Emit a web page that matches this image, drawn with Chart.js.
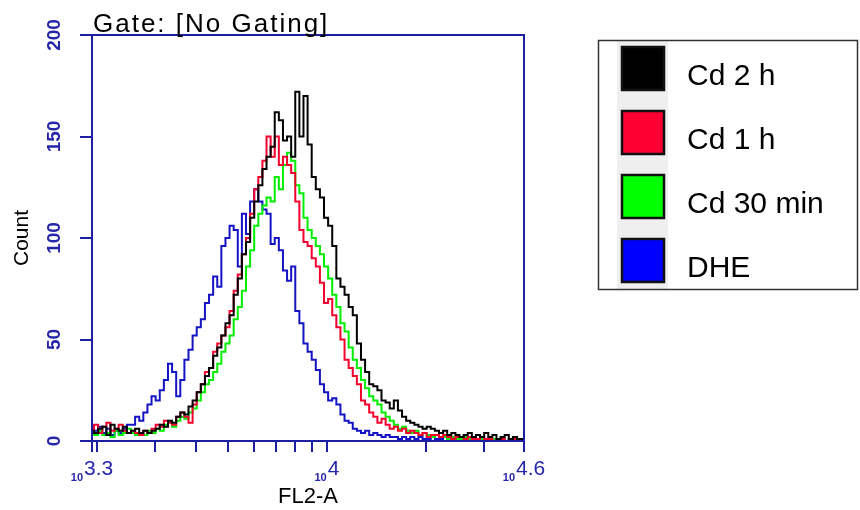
<!DOCTYPE html>
<html>
<head>
<meta charset="utf-8">
<script src="https://cdn.jsdelivr.net/npm/chart.js@4.4.1/dist/chart.umd.min.js"></script>
<style>
  html, body { margin: 0; padding: 0; background: #fff; }
  #wrap { width: 860px; height: 510px; }
</style>
</head>
<body>
<div id="wrap"><canvas id="histo" width="860" height="510"></canvas></div>
<script>
// channel grid, log10(FL2-A)
const binStart = 3.285;
const binWidth = 0.0125;

const seriesNames = ["Cd 2 h", "Cd 1 h", "Cd 30 min", "DHE"];
const seriesColors = ["#000000", "#f2002e", "#00ee00", "#1414c4"];
const legendColors = ["#000000", "#ff0033", "#00ff00", "#0000ff"];

const cd2h = [
  5,4,6,7,3,8,6,5,7,4,
  5,6,4,5,4,5,6,8,7,10,
  9,12,14,13,17,20,24,28,32,36,
  42,46,52,58,62,72,80,92,98,110,
  118,126,134,140,145,162,158,148,150,140,
  172,150,170,146,130,124,120,110,106,96,
  80,76,72,66,62,48,40,34,28,27,
  25,20,19,16,20,15,12,10,9,8,
  7,6,7,6,5,4,5,3,4,3,
  2,3,4,2,3,2,4,2,3,1,
  2,3,1,2,1,1
];
const cd1h = [
  5,8,4,7,9,5,6,8,5,4,
  5,4,3,5,4,6,8,7,10,9,
  8,12,14,12,9,18,24,28,34,36,
  44,48,52,56,64,74,82,92,100,112,
  124,130,138,150,140,150,136,140,136,132,
  118,104,98,96,90,86,78,68,70,62,
  56,50,40,36,32,28,20,18,14,12,
  9,11,8,6,7,5,6,4,5,4,
  3,4,2,3,3,2,3,2,1,2,
  2,1,2,1,1,2,1,1,0,1,
  1,0,1,1,0,0
];
const cd30min = [
  4,3,5,3,4,2,5,3,4,6,
  4,3,4,3,5,4,6,5,8,9,
  7,10,12,11,14,16,20,24,28,30,
  34,38,44,48,52,60,66,74,86,94,
  106,112,116,120,118,130,124,136,142,138,
  126,122,110,104,100,96,92,86,80,72,
  66,58,54,46,40,36,30,26,22,20,
  18,14,12,10,8,6,7,5,4,5,
  3,4,3,2,3,2,2,1,2,1,
  1,2,1,1,0,1,1,0,1,0,
  1,0,0,1,0,0
];
const dhe = [
  6,5,7,4,6,3,5,4,6,8,
  8,12,10,14,18,22,20,25,30,38,
  34,22,30,40,45,52,56,60,68,72,
  81,76,96,100,106,104,86,112,102,118,
  124,118,114,112,97,100,94,84,79,86,
  64,58,48,44,40,35,28,24,20,21,
  18,13,10,9,6,5,4,5,3,4,
  3,2,3,2,2,1,2,1,2,1,
  2,1,1,2,1,1,0,1,1,0,
  1,1,0,1,0,1,1,0,1,0,
  1,0,1,1,0,1
];

const yTicks = [0, 50, 100, 150, 200];
const xMin = 3.285, xMax = 4.6;
const xTickValues = [3.285, Math.log10(2000), Math.log10(3000), Math.log10(4000), Math.log10(5000),
  Math.log10(6000), Math.log10(7000), Math.log10(8000), Math.log10(9000), 4,
  Math.log10(20000), Math.log10(30000), 4.6];
const xLabelValues = [3.285, 4, 4.6];
const xLabelExps = ["3.3", "4", "4.6"];

const axisBlue = "#1e1ea0";
const labelBlue = "#2626aa";
const fam = '"Liberation Sans", Arial, sans-serif';

function toPoints(counts) {
  return counts.map((c, i) => ({ x: binStart + i * binWidth, y: c }));
}

const allSeries = [cd2h, cd1h, cd30min, dhe];
const datasets = allSeries.map((s, k) => ({
  label: seriesNames[k],
  data: toPoints(s),
  borderColor: seriesColors[k],
  borderWidth: 2,
  pointRadius: 0,
  stepped: "middle",
  fill: false,
}));

const decorPlugin = {
  id: "decor",
  afterDraw(chart) {
    const ctx = chart.ctx;
    const a = chart.chartArea;
    const ys = chart.scales.y, xs = chart.scales.x;
    ctx.save();

    // plot frame
    ctx.strokeStyle = axisBlue;
    ctx.lineWidth = 2;
    ctx.strokeRect(a.left, a.top, a.right - a.left, a.bottom - a.top);

    // gate caption
    ctx.fillStyle = "#000";
    ctx.font = "26px " + fam;
    ctx.textAlign = "left";
    ctx.textBaseline = "alphabetic";
    ctx.letterSpacing = "2px";
    ctx.fillText("Gate: [No Gating]", 93, 32);
    ctx.letterSpacing = "0px";

    // y tick labels, rotated
    ctx.fillStyle = labelBlue;
    ctx.font = "bold 19px " + fam;
    ctx.textAlign = "center";
    ctx.textBaseline = "middle";
    yTicks.forEach(v => {
      const py = ys.getPixelForValue(v);
      ctx.save();
      ctx.translate(55, py);
      ctx.rotate(-Math.PI / 2);
      ctx.fillText(String(v), 0, 0);
      ctx.restore();
    });

    // x tick labels: small "10" + exponent
    ctx.textAlign = "left";
    ctx.textBaseline = "alphabetic";
    xLabelValues.forEach((v, k) => {
      const px = xs.getPixelForValue(v);
      ctx.font = "bold 11px " + fam;
      const w1 = ctx.measureText("10").width;
      ctx.font = "21px " + fam;
      const w2 = ctx.measureText(xLabelExps[k]).width;
      const x0 = px - (w1 + 1 + w2) / 2;
      ctx.font = "bold 11px " + fam;
      ctx.fillText("10", x0, 481);
      ctx.font = "21px " + fam;
      ctx.fillText(xLabelExps[k], x0 + w1 + 1, 475);
    });

    // legend box
    ctx.fillStyle = "#efefef";
    ctx.fillRect(617, 41, 51, 248);
    ctx.strokeStyle = "#333";
    ctx.lineWidth = 1.5;
    ctx.strokeRect(598.5, 40.5, 259, 249);
    ctx.font = "30px " + fam;
    seriesNames.forEach((name, k) => {
      const top = 47 + k * 64;
      ctx.fillStyle = legendColors[k];
      ctx.fillRect(622, top, 42, 43);
      ctx.strokeStyle = "#111";
      ctx.lineWidth = 2.5;
      ctx.strokeRect(622, top, 42, 43);
      ctx.fillStyle = "#000";
      ctx.fillText(name, 687, top + 38);
    });
    ctx.restore();
  }
};

new Chart(document.getElementById("histo"), {
  type: "line",
  data: { datasets },
  plugins: [decorPlugin],
  options: {
    responsive: false,
    animation: false,
    layout: { padding: { left: 0, right: 336, top: 35, bottom: 0 } },
    plugins: {
      legend: { display: false },
      tooltip: { enabled: false },
    },
    scales: {
      x: {
        type: "linear",
        min: xMin,
        max: xMax,
        afterBuildTicks: (scale) => {
          scale.ticks = xTickValues.map(v => ({ value: v }));
        },
        afterFit: (scale) => { scale.height = 69; },
        ticks: { display: false },
        grid: { drawOnChartArea: false, drawTicks: true, tickLength: 11, color: axisBlue, lineWidth: 2 },
        border: { display: false },
        title: {
          display: true,
          text: "FL2-A",
          color: "#000",
          font: { family: fam, size: 22 },
          padding: { top: 0, bottom: 0 },
        },
      },
      y: {
        min: 0,
        max: 200,
        afterBuildTicks: (scale) => {
          scale.ticks = yTicks.map(v => ({ value: v }));
        },
        afterFit: (scale) => { scale.width = 92; },
        ticks: { display: false },
        grid: { drawOnChartArea: false, drawTicks: true, tickLength: 12, color: axisBlue, lineWidth: 2 },
        border: { display: false },
        title: {
          display: true,
          text: "Count",
          color: "#000",
          font: { family: fam, size: 21 },
          padding: { top: 10, bottom: 0 },
        },
      },
    },
  },
});
</script>
</body>
</html>
